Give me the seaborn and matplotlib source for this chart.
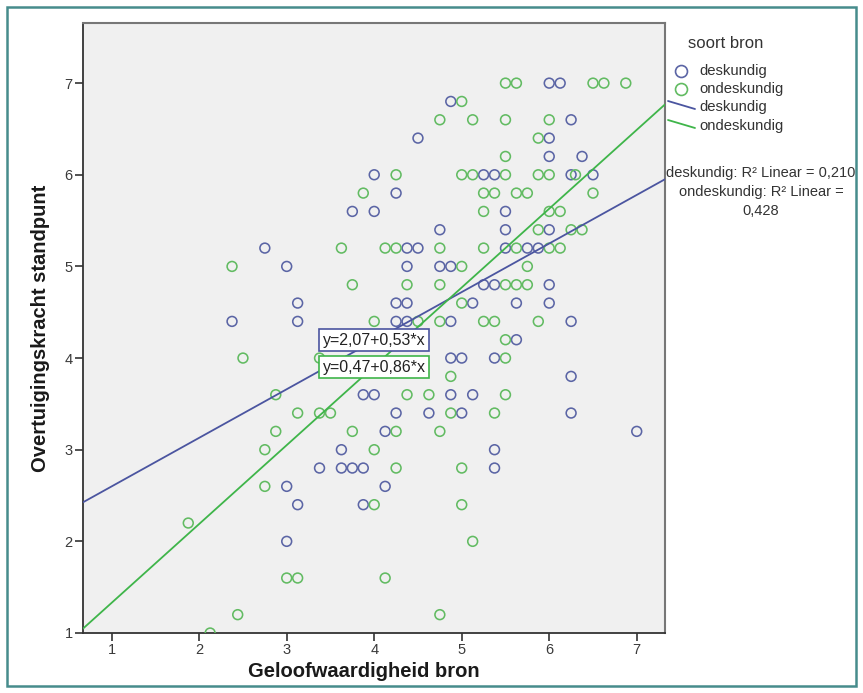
import matplotlib
matplotlib.use("Agg")
import matplotlib.pyplot as plt
from matplotlib.lines import Line2D
from matplotlib.patches import Rectangle
import seaborn as sns
import pandas as pd

# === Data ===
# deskundig (expert source)
x_desk = [2.375, 2.75, 3.0, 3.125, 3.125, 3.75, 4.0, 4.0, 3.875, 4.0,
          3.625, 3.375, 3.625, 3.75, 3.875, 3.0, 3.125, 3.875, 3.0,
          6.0, 6.125,
          4.875,
          6.25,
          4.5, 6.0,
          6.0, 6.375,
          5.25, 5.375, 6.25, 6.5,
          4.25,
          5.5,
          4.75, 5.5, 6.0,
          4.375, 4.5, 5.5, 5.75, 5.875,
          4.375, 4.75, 4.875,
          5.25, 5.375, 6.0,
          4.25, 4.375, 5.125, 5.625, 6.0,
          4.25, 4.375, 4.875, 6.25,
          5.625,
          4.875, 5.0, 5.375,
          6.25,
          4.875, 5.125,
          4.25, 4.625, 5.0, 6.25,
          4.125, 7.0,
          5.375,
          5.375,
          4.125]
y_desk = [4.4, 5.2, 5.0, 4.6, 4.4, 5.6, 5.6, 6.0, 3.6, 3.6,
          3.0, 2.8, 2.8, 2.8, 2.8, 2.6, 2.4, 2.4, 2.0,
          7.0, 7.0,
          6.8,
          6.6,
          6.4, 6.4,
          6.2, 6.2,
          6.0, 6.0, 6.0, 6.0,
          5.8,
          5.6,
          5.4, 5.4, 5.4,
          5.2, 5.2, 5.2, 5.2, 5.2,
          5.0, 5.0, 5.0,
          4.8, 4.8, 4.8,
          4.6, 4.6, 4.6, 4.6, 4.6,
          4.4, 4.4, 4.4, 4.4,
          4.2,
          4.0, 4.0, 4.0,
          3.8,
          3.6, 3.6,
          3.4, 3.4, 3.4, 3.4,
          3.2, 3.2,
          3.0,
          2.8,
          2.6]

# ondeskundig (non-expert source)
x_ondesk = [3.875, 3.625, 2.375, 3.75, 4.0, 2.5, 3.375, 2.875, 3.125, 3.375,
            3.5, 2.875, 3.75, 2.75, 4.0, 2.75, 4.0, 1.875, 3.0, 3.125,
            2.44, 2.125,
            5.5, 5.625, 6.5, 6.625, 6.875,
            5.0,
            4.75, 5.125, 5.5, 6.0,
            5.875,
            5.5,
            4.25, 5.0, 5.125, 5.5, 5.875, 6.0, 6.3,
            5.25, 5.375, 5.625, 5.75, 6.5,
            5.25, 6.0, 6.125,
            5.875, 6.25, 6.375,
            4.125, 4.25, 4.75, 5.25, 5.625, 6.0, 6.125,
            5.0, 5.75,
            4.375, 4.75, 5.5, 5.625, 5.75,
            5.0,
            4.5, 4.75, 5.25, 5.375, 5.875,
            5.5,
            5.5,
            4.875,
            4.375, 4.625, 5.5,
            4.875, 5.375,
            4.25, 4.75,
            4.25, 5.0,
            5.0,
            5.125,
            4.125,
            4.75]
y_ondesk = [5.8, 5.2, 5.0, 4.8, 4.4, 4.0, 4.0, 3.6, 3.4, 3.4,
            3.4, 3.2, 3.2, 3.0, 3.0, 2.6, 2.4, 2.2, 1.6, 1.6,
            1.2, 1.0,
            7.0, 7.0, 7.0, 7.0, 7.0,
            6.8,
            6.6, 6.6, 6.6, 6.6,
            6.4,
            6.2,
            6.0, 6.0, 6.0, 6.0, 6.0, 6.0, 6.0,
            5.8, 5.8, 5.8, 5.8, 5.8,
            5.6, 5.6, 5.6,
            5.4, 5.4, 5.4,
            5.2, 5.2, 5.2, 5.2, 5.2, 5.2, 5.2,
            5.0, 5.0,
            4.8, 4.8, 4.8, 4.8, 4.8,
            4.6,
            4.4, 4.4, 4.4, 4.4, 4.4,
            4.2,
            4.0,
            3.8,
            3.6, 3.6, 3.6,
            3.4, 3.4,
            3.2, 3.2,
            2.8, 2.8,
            2.4,
            2.0,
            1.6,
            1.2]

groups = ["deskundig", "ondeskundig"]
intercepts = [2.07, 0.47]
slopes = [0.53, 0.86]
r2_values = ["0,210", "0,428"]
equations = ["y=2,07+0,53*x", "y=0,47+0,86*x"]

marker_colors = {"deskundig": "#5b65a5", "ondeskundig": "#62bb62"}
line_colors = ["#4b55a0", "#3fb54a"]

df = pd.DataFrame({
    "Geloofwaardigheid bron": x_desk + x_ondesk,
    "Overtuigingskracht standpunt": y_desk + y_ondesk,
    "soort bron": ["deskundig"] * len(x_desk) + ["ondeskundig"] * len(x_ondesk),
})

# === Style ===
sns.set_style("ticks")
plt.rcParams["font.family"] = ["Liberation Sans", "DejaVu Sans"]

W, H = 863, 693
fig = plt.figure(figsize=(W / 100, H / 100), dpi=100)
ax = fig.add_axes([83 / W, 1 - 633 / H, 582 / W, 610 / H])
ax.set_facecolor("#f0f0f0")

sns.scatterplot(data=df, x="Geloofwaardigheid bron", y="Overtuigingskracht standpunt",
                hue="soort bron", palette=marker_colors, s=50, linewidth=1.15,
                legend=False, ax=ax, zorder=3)
# hollow circles like SPSS
pts = ax.collections[0]
pts.set_edgecolors(pts.get_facecolors())
pts.set_facecolors("none")

# fit lines
for b, m, c in zip(intercepts, slopes, line_colors):
    ax.axline((0, b), slope=m, color=c, lw=1.3, zorder=4)

ax.set_xlim(0.672, 7.323)
ax.set_ylim(1.0, 7.656)
ax.set_xticks(range(1, 8))
ax.set_yticks(range(1, 8))
ax.tick_params(length=5.5, width=1.2, color="#333333", labelsize=10.5,
               labelcolor="#3a3a3a", pad=2)

for s in ["left", "bottom"]:
    ax.spines[s].set_color("#333333")
    ax.spines[s].set_linewidth(1.3)
for s in ["top", "right"]:
    ax.spines[s].set_color("#777777")
    ax.spines[s].set_linewidth(1.5)

ax.set_xlabel("Geloofwaardigheid bron", fontsize=14.5, fontweight="bold", color="#1a1a1a")
ax.set_ylabel("Overtuigingskracht standpunt", fontsize=14.5, fontweight="bold", color="#1a1a1a")
ax.xaxis.set_label_coords(0.483, -0.047)
ax.yaxis.set_label_coords(-0.056, 0.5)

# equation boxes
for eq, c, yy in zip(equations, line_colors, [4.195, 3.90]):
    ax.text(4.0, yy, eq, ha="center", va="center", fontsize=11.5, color="#222222", zorder=6,
            bbox=dict(boxstyle="square,pad=0.22", fc="white", ec=c, lw=1.2))

# === Legend (drawn by hand to mimic SPSS) ===
def fx(px):
    return px / W

def fy(py):
    return 1 - py / H

fig.text(fx(726), fy(43), "soort bron", ha="center", va="center", fontsize=12, color="#333333")
for g, py in zip(groups, [71, 89]):
    fig.add_artist(Line2D([fx(681)], [fy(py)], marker="o", mfc="none", mec=marker_colors[g],
                          ms=8.6, mew=1.2, transform=fig.transFigure))
    fig.text(fx(699), fy(py), g, ha="left", va="center", fontsize=10.7, color="#333333")
for g, c, py in zip(groups, line_colors, [107, 126]):
    fig.add_artist(Line2D([fx(668), fx(695)], [fy(py - 6), fy(py + 2)], color=c, lw=1.3,
                          transform=fig.transFigure))
    fig.text(fx(699), fy(py), g, ha="left", va="center", fontsize=10.7, color="#333333")

fig.text(fx(761), fy(173), f"deskundig: R² Linear = {r2_values[0]}", ha="center", va="center",
         fontsize=10.5, color="#333333")
fig.text(fx(761), fy(192), "ondeskundig: R² Linear =", ha="center", va="center",
         fontsize=10.5, color="#333333")
fig.text(fx(761), fy(211), r2_values[1], ha="center", va="center", fontsize=10.5, color="#333333")

# outer frame
fig.add_artist(Rectangle((7 / W, 7 / H), (856 - 7) / W, (686 - 7) / H, transform=fig.transFigure,
                         fill=False, ec="#468c8c", lw=1.8))

fig.savefig("out.png", dpi=100)
